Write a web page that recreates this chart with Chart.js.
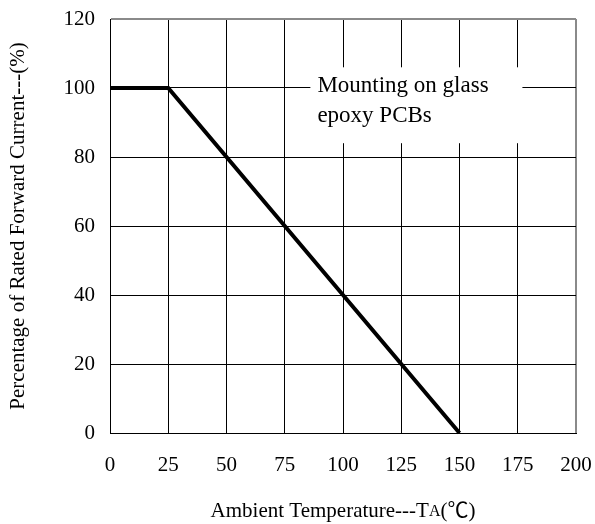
<!DOCTYPE html>
<html lang="en">
<head>
    <meta charset="UTF-8">
    <title>Derating curve</title>
    <script src="https://cdn.jsdelivr.net/npm/chart.js"></script>
    <style>
        html, body { margin: 0; padding: 0; background: #fff; }
        #box { width: 595px; height: 524px; }
    </style>
</head>
<body>
    <div id="box"><canvas id="grafico"></canvas></div>
<script>
    // curva de derating
    const temperaturas = [0, 25, 150];
    const percentuais = [100, 100, 0];
    const ticksX = [0, 25, 50, 75, 100, 125, 150, 175, 200];
    const ticksY = [0, 20, 40, 60, 80, 100, 120];
    const notaLinhas = ['Mounting on glass', 'epoxy PCBs'];

    const fonte = '"Liberation Serif", "Times New Roman", serif';
    const fonteCJK = '"Liberation Serif", "Noto Sans CJK SC", serif';

    const pontos = temperaturas.map((t, i) => ({ x: t, y: percentuais[i] }));

    // caixa branca com a nota, por cima da grade
    const notaPlugin = {
        id: 'nota',
        beforeDatasetsDraw(chart) {
            const ctx = chart.ctx;
            const sx = chart.scales.x, sy = chart.scales.y;
            const x0 = sx.getPixelForValue(86), x1 = sx.getPixelForValue(177);
            const y0 = sy.getPixelForValue(106), y1 = sy.getPixelForValue(84);
            ctx.save();
            ctx.fillStyle = '#fff';
            ctx.fillRect(x0, y0, x1 - x0, y1 - y0);
            ctx.fillStyle = '#000';
            ctx.font = '23px ' + fonte;
            ctx.textBaseline = 'alphabetic';
            ctx.fillText(notaLinhas[0], x0 + 7, y0 + 25);
            ctx.fillText(notaLinhas[1], x0 + 7, y0 + 55);
            ctx.restore();
        }
    };

    // titulos dos eixos, centrados na area do grafico
    const titulosPlugin = {
        id: 'titulos',
        afterDraw(chart) {
            const ctx = chart.ctx;
            const area = chart.chartArea;
            ctx.save();
            ctx.fillStyle = '#000';
            ctx.textBaseline = 'middle';

            const partes = [
                ['Ambient Temperature---T', '21px ' + fonte, 0],
                ['A', '16px ' + fonte, 1],
                ['(\u2103)', '21px ' + fonteCJK, 0]
            ];
            let total = 0;
            partes.forEach(p => { ctx.font = p[1]; total += ctx.measureText(p[0]).width; });
            let x = (area.left + area.right) / 2 - total / 2;
            partes.forEach(p => {
                ctx.font = p[1];
                ctx.fillText(p[0], x, 511 + p[2]);
                x += ctx.measureText(p[0]).width;
            });

            ctx.translate(18, (area.top + area.bottom) / 2);
            ctx.rotate(-Math.PI / 2);
            ctx.textAlign = 'center';
            ctx.font = '21px ' + fonte;
            ctx.fillText('Percentage of Rated Forward Current---(%)', 0, 0);
            ctx.restore();
        }
    };

    const corGrade = (valor, fim) => valor === fim ? '#8a8a8a' : '#000';

    new Chart(document.getElementById('grafico'), {
        type: 'line',
        data: {
            datasets: [{
                data: pontos,
                borderColor: '#000',
                borderWidth: 4,
                pointRadius: 0,
                tension: 0,
                clip: false
            }]
        },
        options: {
            responsive: true,
            maintainAspectRatio: false,
            animation: false,
            layout: { padding: { left: 0, top: 19, right: 19, bottom: 0 } },
            plugins: { legend: { display: false }, tooltip: { enabled: false } },
            scales: {
                x: {
                    type: 'linear',
                    min: 0,
                    max: 200,
                    afterBuildTicks: s => { s.ticks = ticksX.map(v => ({ value: v })); },
                    afterFit: s => { s.height = 91; s.paddingLeft = 0; s.paddingRight = 0; },
                    grid: {
                        drawTicks: false,
                        color: c => corGrade(c.tick && c.tick.value, 200),
                        lineWidth: c => (c.tick && c.tick.value === 200) ? 2 : 1
                    },
                    border: { color: '#000', width: 1 },
                    ticks: {
                        padding: 20,
                        color: '#000',
                        font: { family: fonte, size: 21 },
                        maxRotation: 0
                    }
                },
                y: {
                    min: 0,
                    max: 120,
                    afterBuildTicks: s => { s.ticks = ticksY.map(v => ({ value: v })); },
                    afterFit: s => { s.width = 110; s.paddingTop = 0; s.paddingBottom = 0; },
                    grid: {
                        drawTicks: false,
                        color: c => corGrade(c.tick && c.tick.value, 120),
                        lineWidth: c => (c.tick && c.tick.value === 120) ? 2 : 1
                    },
                    border: { color: '#000', width: 1 },
                    ticks: {
                        padding: 15,
                        color: '#000',
                        font: { family: fonte, size: 21 }
                    }
                }
            }
        },
        plugins: [notaPlugin, titulosPlugin]
    });
</script>
</body>
</html>
